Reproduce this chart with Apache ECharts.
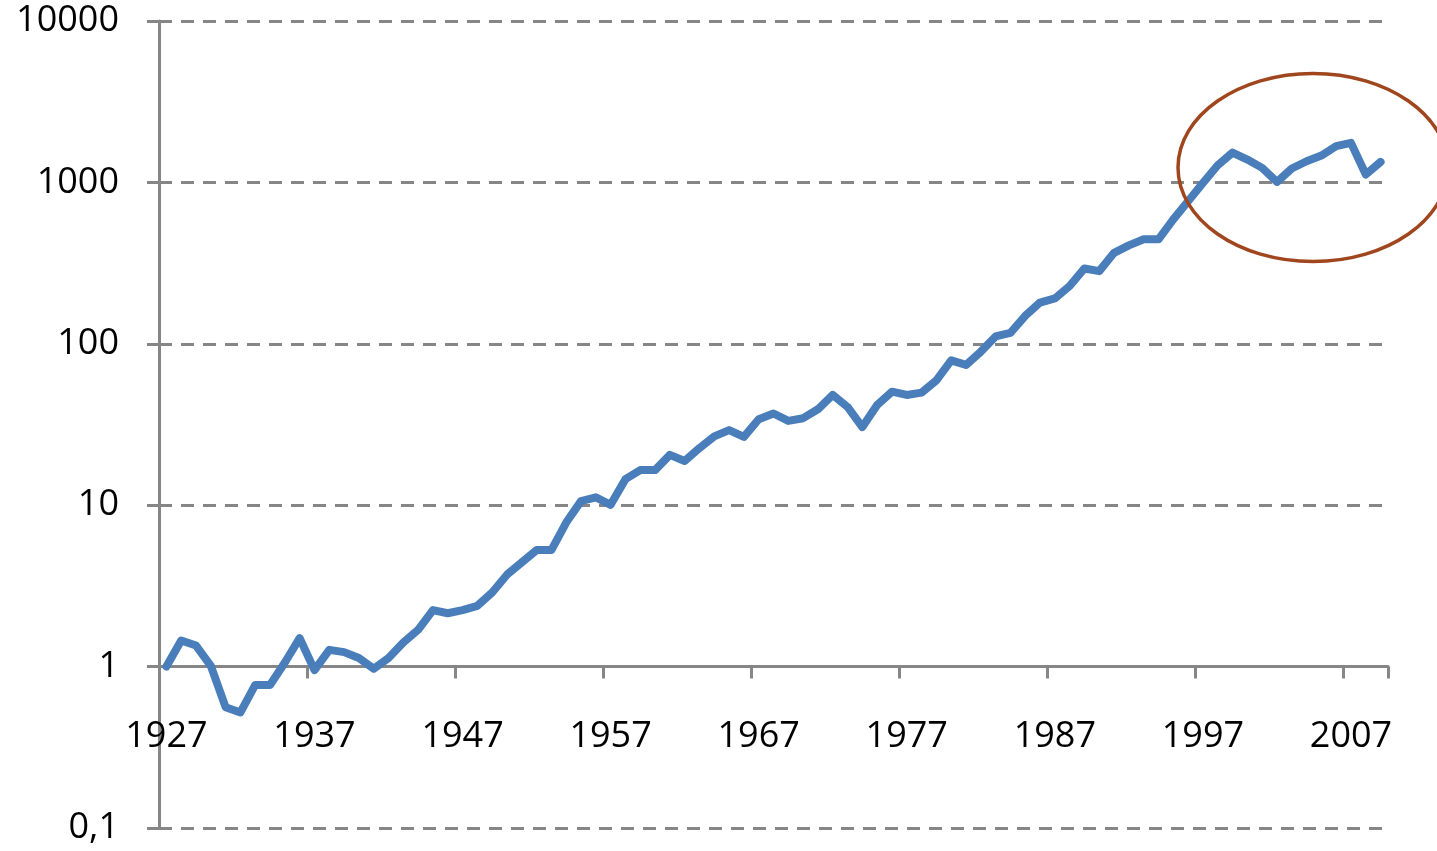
<!DOCTYPE html>
<html>
<head>
<meta charset="utf-8">
<script src="https://cdn.jsdelivr.net/npm/echarts@6/dist/echarts.min.js"></script>
<style>
    html, body { margin: 0; padding: 0; background: #fff; }
    #main { width: 1437px; height: 851px; }
</style>
</head>
<body>
<div id="main"></div>
<script>
// years 1927 .. 2009
const years = [];
for (let y = 1927; y <= 2009; y++) {
    years.push(String(y));
}

// growth of 1 unit invested in 1927 (log scale)
const values = [
    1.0, 1.45, 1.35, 1.01, 0.56, 0.52, 0.77, 0.77, 1.06, 1.5,       // 1927-1936
    0.95, 1.27, 1.23, 1.13, 0.97, 1.13, 1.41, 1.69, 2.24, 2.14,     // 1937-1946
    2.24, 2.38, 2.88, 3.71, 4.42, 5.27, 5.27, 7.81, 10.6, 11.2,     // 1947-1956
    10.05, 14.5, 16.5, 16.5, 20.5, 18.8, 22.6, 26.7, 29.2, 26.5,    // 1957-1966
    34.1, 37, 33.3, 34.6, 39.3, 48.2, 40.6, 30.5, 41.8, 50.5,       // 1967-1976
    48.2, 49.8, 59.4, 79, 74, 89.4, 111, 117, 149, 180,             // 1977-1986
    191, 228, 293, 282, 366, 407, 444, 444, 590, 765,               // 1987-1996
    993, 1277, 1530, 1386, 1230, 1007, 1219, 1352, 1466, 1676,      // 1997-2006
    1757, 1119, 1340                                                // 2007-2009
];

const yMin = 0.1;
const yMax = 10000;

const AXIS_COLOR = '#868686';
const FONT = '"Open Sans", "Noto Sans", sans-serif';

const chart = echarts.init(document.getElementById('main'), null, { renderer: 'canvas' });

function formatY(v) {
    if (v < 1) {
        return v.toFixed(1).replace('.', ',');
    }
    return String(Math.round(v));
}

const option = {
    animation: false,
    backgroundColor: '#fff',
    grid: {
        left: 159,
        right: 49,
        top: 21,
        height: 807
    },
    xAxis: {
        type: 'category',
        data: years,
        boundaryGap: true,
        // sits on the value 1 line, one decade above the bottom
        offset: -161.4,
        axisLine: {
            show: true,
            lineStyle: { color: AXIS_COLOR, width: 3 }
        },
        axisTick: {
            show: true,
            interval: function (index) {
                return index % 10 === 0 && index < years.length;
            },
            length: 12,
            lineStyle: { color: AXIS_COLOR, width: 3 }
        },
        axisLabel: {
            interval: 9,
            margin: 52,
            color: '#000',
            fontFamily: FONT,
            fontSize: 36
        },
        splitLine: { show: false }
    },
    yAxis: {
        type: 'log',
        logBase: 10,
        min: yMin,
        max: yMax,
        axisLine: {
            show: true,
            lineStyle: { color: AXIS_COLOR, width: 3 }
        },
        axisTick: {
            show: true,
            length: 12,
            lineStyle: { color: AXIS_COLOR, width: 3 }
        },
        axisLabel: {
            margin: 40,
            padding: [12, 0, 0, 0],
            color: '#000',
            fontFamily: FONT,
            fontSize: 36,
            formatter: formatY
        },
        splitLine: {
            show: true,
            lineStyle: { color: AXIS_COLOR, width: 3, type: [13, 9] }
        }
    },
    series: [{
        type: 'line',
        data: values,
        symbol: 'none',
        lineStyle: {
            color: '#4A7EBB',
            width: 8,
            cap: 'round',
            join: 'round'
        },
        z: 3
    }],
    graphic: [{
        // hand drawn highlight around the last decade
        type: 'ellipse',
        shape: { cx: 1313, cy: 167.5, rx: 135, ry: 94 },
        style: { fill: 'none', stroke: '#A0461E', lineWidth: 3.5 },
        z: 10
    }]
};

chart.setOption(option);
</script>
</body>
</html>
